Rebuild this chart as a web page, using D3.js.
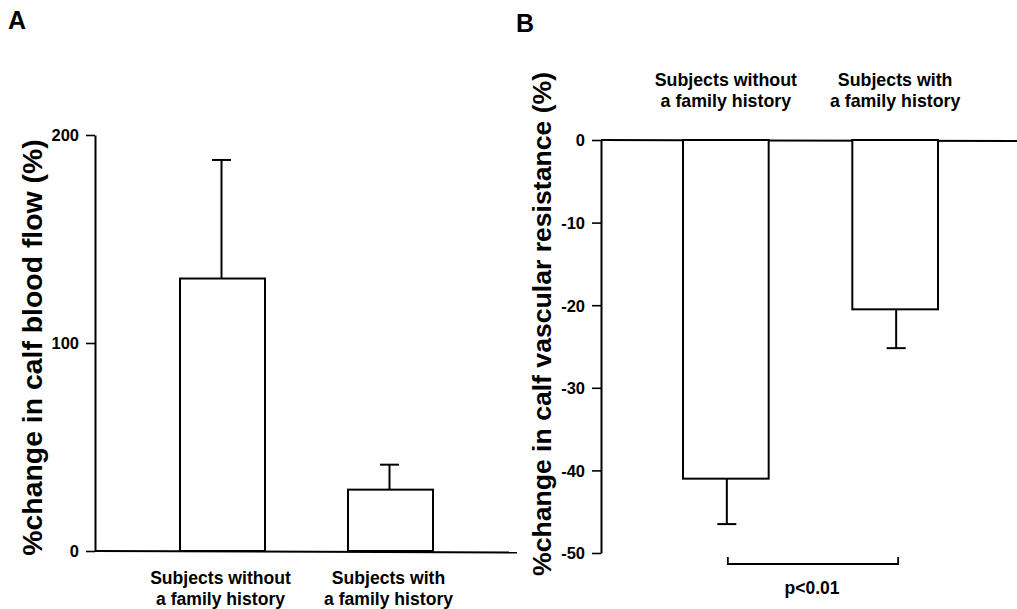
<!DOCTYPE html>
<html>
<head>
<meta charset="utf-8">
<script src="https://cdn.jsdelivr.net/npm/d3@7"></script>
<style>
  html, body { margin: 0; padding: 0; background: #fff; }
  svg { display: block; }
  text { font-family: "Liberation Sans", Arial, Helvetica, sans-serif; font-weight: bold; fill: #000; }
</style>
</head>
<body>
<svg id="chart" width="1017" height="609"></svg>
<script>
// Group labels (two lines each)
const groups = ["without", "with"];
const groupLines = [
  ["Subjects without", "a family history"],
  ["Subjects with", "a family history"]
];

// Panel A: % change in calf blood flow (mean and upper error)
const flowMean = [131, 29.5];
const flowErr = [57, 12];
const flowTicks = [0, 100, 200];

// Panel B: % change in calf vascular resistance (mean and lower error)
const resistMean = [-41, -20.5];
const resistErr = [5.5, 4.7];
const resistTicks = [0, -10, -20, -30, -40, -50];

const svg = d3.select("#chart");
const LW = 2;
// plain hyphen for negative tick values
const tickFmt = d => String(d);

function drawAxisY(g, y, ticks, x0) {
  const axis = d3.axisLeft(y).tickValues(ticks).tickSize(9).tickSizeOuter(0).tickPadding(7)
    .tickFormat(tickFmt);
  const a = g.append("g").attr("transform", `translate(${x0},0)`).call(axis);
  a.select(".domain").attr("stroke", "#000").attr("stroke-width", LW);
  a.selectAll(".tick line").attr("stroke", "#000").attr("stroke-width", 1.6);
  a.selectAll(".tick text").style("font-size", "16.5px").style("font-weight", "bold")
    .style("font-family", '"Liberation Sans", Arial, sans-serif').attr("fill", "#000")
    .attr("dy", "0.36em");
  return a;
}

// ---------- Panel A ----------
{
  const g = svg.append("g");
  const y = d3.scaleLinear().domain([0, 200]).range([551, 135]);
  const x = d3.scaleBand().domain(groups).range([180, 433]).paddingInner(0.494);
  const axisX = 95;

  // baseline
  g.append("line").attr("x1", axisX).attr("x2", 517)
    .attr("y1", y(0)).attr("y2", y(0) + 1.5)
    .attr("stroke", "#000").attr("stroke-width", LW);

  drawAxisY(g, y, flowTicks, axisX);

  // error bars (upper)
  groups.forEach((k, i) => {
    const cx = x(k) + x.bandwidth() / 2 - 1;
    g.append("line").attr("x1", cx).attr("x2", cx)
      .attr("y1", y(flowMean[i])).attr("y2", y(flowMean[i] + flowErr[i]))
      .attr("stroke", "#000").attr("stroke-width", LW);
    g.append("line").attr("x1", cx - 9.5).attr("x2", cx + 9.5)
      .attr("y1", y(flowMean[i] + flowErr[i])).attr("y2", y(flowMean[i] + flowErr[i]))
      .attr("stroke", "#000").attr("stroke-width", LW);
  });

  // bars
  g.selectAll("rect.bar").data(groups).join("rect")
    .attr("x", k => x(k))
    .attr("width", x.bandwidth())
    .attr("y", (k, i) => y(flowMean[i]))
    .attr("height", (k, i) => y(0) - y(flowMean[i]))
    .attr("fill", "#fff").attr("stroke", "#000").attr("stroke-width", LW);

  // group labels below
  groups.forEach((k, i) => {
    const t = g.append("text").attr("text-anchor", "middle").style("font-size", "17.6px");
    groupLines[i].forEach((line, j) => {
      t.append("tspan").attr("x", x(k) + x.bandwidth() / 2 - 2).attr("y", 584 + j * 21).text(line);
    });
  });

  // y label
  g.append("text").attr("text-anchor", "middle")
    .attr("transform", `translate(42,347.5) rotate(-90)`)
    .style("font-size", "28.4px")
    .text("%change in calf blood flow (%)");

  g.append("text").attr("x", 8).attr("y", 29).style("font-size", "25px").text("A");
}

// ---------- Panel B ----------
{
  const g = svg.append("g");
  const y = d3.scaleLinear().domain([-50, 0]).range([553, 140]);
  const x = d3.scaleBand().domain(groups).range([683, 938]).paddingInner(0.494);
  const axisX = 601;

  // zero line
  g.append("line").attr("x1", axisX).attr("x2", 1017)
    .attr("y1", y(0)).attr("y2", y(0) + 1)
    .attr("stroke", "#000").attr("stroke-width", LW);

  drawAxisY(g, y, resistTicks, axisX);

  // error bars (lower)
  groups.forEach((k, i) => {
    const cx = x(k) + x.bandwidth() / 2 + 1;
    const lo = resistMean[i] - resistErr[i];
    g.append("line").attr("x1", cx).attr("x2", cx)
      .attr("y1", y(resistMean[i])).attr("y2", y(lo))
      .attr("stroke", "#000").attr("stroke-width", LW);
    g.append("line").attr("x1", cx - 9.5).attr("x2", cx + 9.5)
      .attr("y1", y(lo)).attr("y2", y(lo))
      .attr("stroke", "#000").attr("stroke-width", LW);
  });

  // bars hanging from zero
  g.selectAll("rect.bar").data(groups).join("rect")
    .attr("x", k => x(k))
    .attr("width", x.bandwidth())
    .attr("y", y(0))
    .attr("height", (k, i) => y(resistMean[i]) - y(0))
    .attr("fill", "#fff").attr("stroke", "#000").attr("stroke-width", LW);

  // group labels above
  groups.forEach((k, i) => {
    const t = g.append("text").attr("text-anchor", "middle").style("font-size", "17.8px");
    groupLines[i].forEach((line, j) => {
      t.append("tspan").attr("x", x(k) + x.bandwidth() / 2).attr("y", 86 + j * 21).text(line);
    });
  });

  // significance bracket between the two error bars
  const bx1 = x(groups[0]) + x.bandwidth() / 2 + 2;
  const bx2 = x(groups[1]) + x.bandwidth() / 2 + 3;
  g.append("path")
    .attr("d", `M${bx1},557 V564 H${bx2} V557`)
    .attr("fill", "none").attr("stroke", "#000").attr("stroke-width", 1.8);
  g.append("text").attr("text-anchor", "middle").attr("x", (bx1 + bx2) / 2 - 1)
    .attr("y", 594).style("font-size", "17.5px").text("p<0.01");

  // y label
  g.append("text").attr("text-anchor", "middle")
    .attr("transform", `translate(551,324) rotate(-90)`)
    .style("font-size", "26.6px")
    .text("%change in calf vascular resistance (%)");

  g.append("text").attr("x", 516).attr("y", 32).style("font-size", "25px").text("B");
}
</script>
</body>
</html>
